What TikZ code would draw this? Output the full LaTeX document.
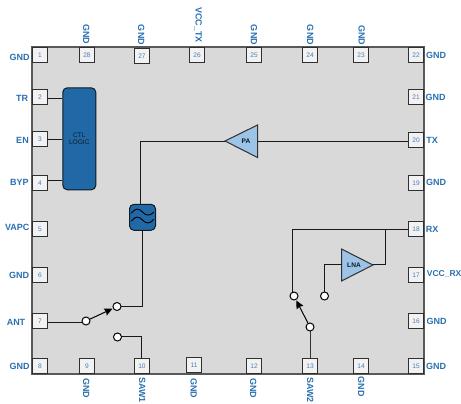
\documentclass[tikz,border=0pt]{standalone}
\usepackage{fontspec}
\setmainfont{Liberation Sans}
\usetikzlibrary{arrows.meta}
\definecolor{chipgray}{HTML}{D9D9D9}
\definecolor{pinfill}{HTML}{F2F2F2}
\definecolor{pinedge}{HTML}{303030}
\definecolor{lblblue}{HTML}{2A70B0}
\definecolor{numblue}{HTML}{4A7DB8}
\definecolor{blockblue}{HTML}{2169A6}
\definecolor{ampblue}{HTML}{9DC3E6}
\definecolor{inkdark}{HTML}{0E1A26}
\tikzset{
  chip/.style={draw=pinedge!80!white,line width=1.2pt},
  pinbox/.style={draw=pinedge,fill=pinfill,line width=1.5pt,minimum width=15pt,minimum height=15pt,inner sep=0pt,text=numblue,font=\fontsize{6.6}{7}\selectfont},
  lbl/.style={text=lblblue,inner sep=0pt,font=\fontsize{9}{10}\selectfont\bfseries},
  vlbl/.style={lbl,rotate=-90},
  wire/.style={draw=black!90,line width=1pt,line join=miter},
  term/.style={circle,draw=black,fill=white,line width=1pt,minimum size=8pt,inner sep=0pt},
  swarm/.style={draw=black,line width=1pt,-{Stealth[length=8pt,width=7.5pt,inset=1pt]},shorten >=0.5pt},
  block/.style={draw=inkdark,fill=blockblue,line width=1pt,rounded corners=4.5pt,inner sep=0pt,align=center,text=inkdark,font=\fontsize{6.6}{7.6}\selectfont},
  amp/.style={draw=pinedge,fill=ampblue,line width=1pt,line join=miter},
  amptext/.style={inner sep=0pt,text=inkdark,font=\fontsize{6.6}{7}\selectfont\bfseries},
  wave/.style={draw=black,line width=0.9pt,line cap=round},
}
\begin{document}
\begin{tikzpicture}[x=1pt,y=-1pt]
\useasboundingbox (0,0) rectangle (461,404);
\fill[chipgray] (32,47) rectangle (424,374);
\draw[chip] (32,47) rectangle (424,374);
\node[pinbox] (p1) at (40,55) {1};
\node[pinbox] (p2) at (40,97) {2};
\node[pinbox] (p3) at (40,139) {3};
\node[pinbox] (p4) at (40,183) {4};
\node[pinbox] (p5) at (40,229) {5};
\node[pinbox] (p6) at (40,275) {6};
\node[pinbox] (p7) at (40,321) {7};
\node[pinbox] (p8) at (40,366) {8};
\node[pinbox] (p9) at (87,366) {9};
\node[pinbox] (p10) at (142,366) {10};
\node[pinbox] (p11) at (194,365) {11};
\node[pinbox] (p12) at (254,366) {12};
\node[pinbox] (p13) at (310,366) {13};
\node[pinbox] (p14) at (361,366) {14};
\node[pinbox] (p15) at (416,366) {15};
\node[pinbox] (p16) at (416,321) {16};
\node[pinbox] (p17) at (416,275) {17};
\node[pinbox] (p18) at (416,229) {18};
\node[pinbox] (p19) at (416,183) {19};
\node[pinbox] (p20) at (416,140) {20};
\node[pinbox] (p21) at (416,97) {21};
\node[pinbox] (p22) at (416,55) {22};
\node[pinbox] (p23) at (361,55) {23};
\node[pinbox] (p24) at (310,55) {24};
\node[pinbox] (p25) at (254,55) {25};
\node[pinbox] (p26) at (197,55) {26};
\node[pinbox] (p27) at (142,56) {27};
\node[pinbox] (p28) at (87,55) {28};
% left labels
\node[lbl] at (19.5,57.5) {GND};
\node[lbl] at (22,98.5) {TR};
\node[lbl] at (22.5,140) {EN};
\node[lbl] at (19.3,182.5) {BYP};
\node[lbl] at (17.3,227.5) {VAPC};
\node[lbl] at (19,275.5) {GND};
\node[lbl] at (16,322) {ANT};
\node[lbl] at (19.5,366.5) {GND};
% right labels
\node[lbl] at (436,55.5) {GND};
\node[lbl] at (435.5,97) {GND};
\node[lbl] at (432,140) {TX};
\node[lbl] at (436,182.5) {GND};
\node[lbl] at (432,229.5) {RX};
\node[lbl,anchor=west,font=\fontsize{8.5}{10}\selectfont\bfseries] at (426.7,274.5) {VCC\_RX};
\node[lbl] at (436.7,321.7) {GND};
\node[lbl] at (436,366.7) {GND};
% top labels
\node[vlbl] at (86.3,34.5) {GND};
\node[vlbl] at (141.3,35) {GND};
\node[vlbl] at (198.3,25) {VCC\_TX};
\node[vlbl] at (254,35) {GND};
\node[vlbl] at (310.3,35) {GND};
\node[vlbl] at (361.7,35.5) {GND};
% bottom labels
\node[vlbl] at (86.3,388) {GND};
\node[vlbl] at (142.3,390) {SAW1};
\node[vlbl] at (193.7,388) {GND};
\node[vlbl] at (253.3,388) {GND};
\node[vlbl] at (310.3,390) {SAW2};
\node[vlbl] at (361.3,386.7) {GND};
% blocks
\node[block,minimum width=33pt,minimum height=102pt] (ctl) at (79.3,138.8) {CTL\\LOGIC};
\node[block,minimum width=26pt,minimum height=26pt] (saw) at (142.5,217.3) {};
\draw[wave] (131.5,213) .. controls (135,208) and (139,208) .. (142.5,212) .. controls (146,216) and (150,216) .. (153.5,212.5);
\draw[wave] (131.5,221) .. controls (135,216) and (139,216) .. (142.5,220) .. controls (146,224) and (150,224) .. (153.5,219.5);
% amplifiers
\draw[amp] (225,141) -- (257.5,125) -- (257.5,157.5) -- cycle;
\node[amptext] (pa) at (246,141.5) {PA};
\coordinate (paout) at (225,141.5);
\coordinate (pain) at (257.5,141.5);
\draw[amp] (341.5,249) -- (373,265) -- (341.5,281) -- cycle;
\node[amptext] (lna) at (354,265) {LNA};
\coordinate (lnain) at (341.5,264.5);
\coordinate (lnaout) at (373,264.5);
% connectors
\draw[wire] (p2.east |- 0,98.5) -- (ctl.west |- 0,98.5);
\draw[wire] (p3.east |- 0,139.5) -- (ctl.west |- 0,139.5);
\draw[wire] (p4.east |- 0,180.5) -- (ctl.west |- 0,180.5);
\draw[wire] (paout) -- (140.5,141.5) -- (140.5,204);
\draw[wire] (pain) -- (p20.west |- pain);
\draw[wire] (saw.south -| 142.5,0) -- (142.5,306.5) -- (117,306.5);
\draw[wire] (p7.east |- 0,322.5) -- (86,322.5);
\draw[wire] (117.5,336.5) -- (141.5,336.5) -- (p10.north -| 141.5,0);
\draw[wire] (p18.west) -- (292.5,229) -- (292.5,292);
\draw[wire] (385.5,229) -- (385.5,264.5) -- (lnaout);
\draw[wire] (lnain) -- (324.5,264.5) -- (324.5,292);
\draw[wire,draw=black!80] (310.5,327) -- (p13.north -| 310.5,0);
% switch terminals
\node[term] (antc) at (86,321) {};
\node[term] (sw1) at (117,306.5) {};
\node[term] (sw2) at (117.5,337) {};
\node[term] (rxa) at (294,296) {};
\node[term] (rxb) at (324.5,296) {};
\node[term] (rxc) at (310,327) {};
\draw[swarm] (antc) -- (sw1);
\draw[swarm] (rxc) -- (rxa);
\end{tikzpicture}
\end{document}
